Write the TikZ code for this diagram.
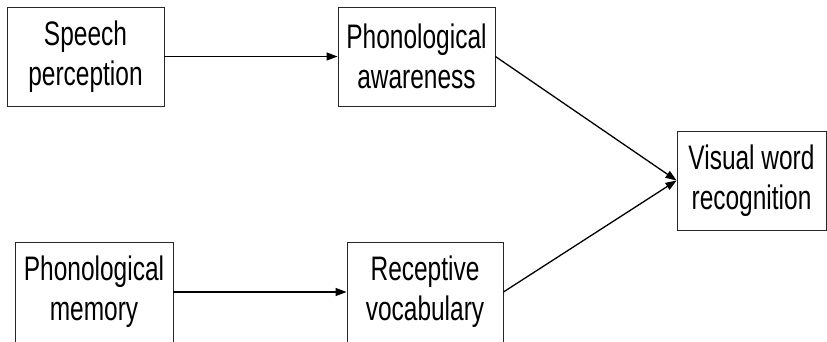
\documentclass[tikz,border=0pt]{standalone}
\usepackage{fontspec}
\setmainfont{Liberation Sans}[FakeStretch=0.72]
\usetikzlibrary{arrows.meta}
\begin{document}
\begin{tikzpicture}[x=1pt,y=-1pt,
  box/.style={draw=black!85, line width=0.9pt, minimum height=99pt,
    inner sep=0pt, align=center,
    font=\fontsize{34}{40}\selectfont},
  link/.style={line width=1.3pt, -{Triangle[length=11pt,width=8pt]}}]
  \useasboundingbox (0,0) rectangle (827,341);
  \clip (0,0) rectangle (827,341);
  \node[box, minimum width=157pt] (sp) at (85.5,56.5) {Speech\\perception};
  \node[box, minimum width=157pt] (pa) at (416.5,56.5) {Phonological\\awareness};
  \node[box, minimum width=158pt, minimum height=100pt] (pm) at (94,292) {Phonological\\memory};
  \node[box, minimum width=156pt, minimum height=100pt] (rv) at (425,292) {Receptive\\vocabulary};
  \node[box, minimum width=149pt] (vw) at (751.5,180.5) {Visual word\\recognition};
  \draw[link] (sp) -- (pa);
  \draw[link] (pm) -- (rv);
  \draw[link] (pa.east) -- (vw.west);
  \draw[link] (rv.east) -- (vw.west);
\end{tikzpicture}
\end{document}
